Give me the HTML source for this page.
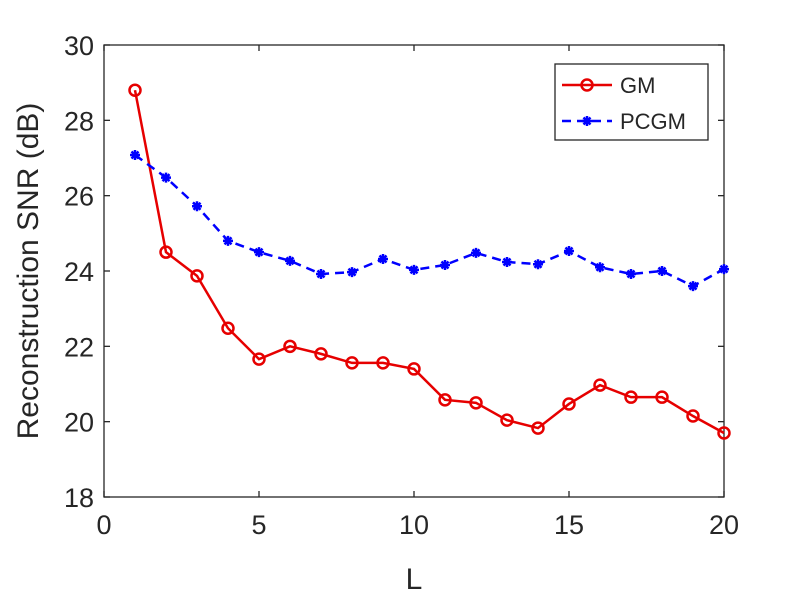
<!DOCTYPE html>
<html><head><meta charset="utf-8"><style>
html,body{margin:0;padding:0;background:#fff;}
svg text{font-family:"Liberation Sans",Arial,sans-serif;fill:#262626;}
</style></head><body>
<svg id="chart" width="800" height="599" xmlns="http://www.w3.org/2000/svg">
<rect x="0" y="0" width="800" height="599" fill="#fff"/>
<g id="plot"></g>
</svg>
<script>
const xValues = [1,2,3,4,5,6,7,8,9,10,11,12,13,14,15,16,17,18,19,20];
const gmValues = [28.8,24.5,23.87,22.48,21.66,22.0,21.8,21.56,21.56,21.4,20.58,20.5,20.04,19.83,20.47,20.97,20.65,20.65,20.15,19.7];
const pcgmValues = [27.08,26.48,25.72,24.8,24.5,24.27,23.92,23.97,24.32,24.03,24.16,24.48,24.24,24.18,24.53,24.1,23.92,24.0,23.6,24.05];
const xTicks = [0,5,10,15,20];
const yTicks = [18,20,22,24,26,28,30];

const L=104,R=724,T=45,B=497;
const xMin=0,xMax=20,yMin=18,yMax=30;
const sx=v=>L+(v-xMin)/(xMax-xMin)*(R-L);
const sy=v=>B-(v-yMin)/(yMax-yMin)*(B-T);
const NS="http://www.w3.org/2000/svg";
const g=document.getElementById('plot');
function mk(tag,attrs,parent){const e=document.createElementNS(NS,tag);for(const k in attrs)e.setAttribute(k,attrs[k]);(parent||g).appendChild(e);return e;}

const box=mk('rect',{x:L,y:T,width:R-L,height:B-T,fill:'#fff',stroke:'#262626','stroke-width':1.3});



xTicks.forEach(v=>{
  const x=sx(v);
  mk('line',{x1:x,y1:B,x2:x,y2:B-6,stroke:'#262626','stroke-width':1.3});
  mk('line',{x1:x,y1:T,x2:x,y2:T+6,stroke:'#262626','stroke-width':1.3});
  const t=mk('text',{x:x,y:B+37,'text-anchor':'middle','font-size':27});
  t.textContent=v;
  
  
});
yTicks.forEach(v=>{
  const y=sy(v);
  mk('line',{x1:L,y1:y,x2:L+6,y2:y,stroke:'#262626','stroke-width':1.3});
  mk('line',{x1:R,y1:y,x2:R-6,y2:y,stroke:'#262626','stroke-width':1.3});
  const t=mk('text',{x:L-10,y:y+10,'text-anchor':'end','font-size':27});
  t.textContent=v;
  
  
});
const xt=mk('text',{x:(L+R)/2,y:589,'text-anchor':'middle','font-size':30});
xt.textContent='L';


const yt=mk('text',{x:0,y:0,'text-anchor':'middle','font-size':30,transform:`translate(38,${(T+B)/2}) rotate(-90)`});
yt.textContent='Reconstruction SNR (dB)';



function star(cx,cy,parent){
  const s=5;
  mk('path',{d:`M${cx-s},${cy}L${cx+s},${cy}M${cx},${cy-s}L${cx},${cy+s}M${cx-s*0.7},${cy-s*0.7}L${cx+s*0.7},${cy+s*0.7}M${cx-s*0.7},${cy+s*0.7}L${cx+s*0.7},${cy-s*0.7}`,stroke:'#0000ff','stroke-width':2.5},parent);
}

const gmPts=xValues.map((x,i)=>sx(x)+','+sy(gmValues[i])).join(' ');
const gl=mk('polyline',{points:gmPts,fill:'none',stroke:'#e60000','stroke-width':2.5});


xValues.forEach((x,i)=>{
  const c=mk('circle',{cx:sx(x),cy:sy(gmValues[i]),r:5.5,fill:'none',stroke:'#e60000','stroke-width':2.5});
  
  
});
const pcPts=xValues.map((x,i)=>sx(x)+','+sy(pcgmValues[i])).join(' ');
const pl=mk('polyline',{points:pcPts,fill:'none',stroke:'#0000ff','stroke-width':2.5,'stroke-dasharray':'9,6'});


xValues.forEach((x,i)=>{
  const pg=mk('g',{});
  
  
  star(sx(x),sy(pcgmValues[i]),pg);
});

const lg=mk('g',{});


mk('rect',{x:555,y:64,width:153,height:76,fill:'#fff',stroke:'#262626','stroke-width':1.3},lg);
const e1=mk('g',{},lg);


mk('line',{x1:562,y1:85,x2:612,y2:85,stroke:'#e60000','stroke-width':2.5},e1);
mk('circle',{cx:587,cy:85,r:5.5,fill:'none',stroke:'#e60000','stroke-width':2.5},e1);
const t1=mk('text',{x:620,y:93,'font-size':22},e1);t1.textContent='GM';
const e2=mk('g',{},lg);


mk('line',{x1:562,y1:121,x2:612,y2:121,stroke:'#0000ff','stroke-width':2.5,'stroke-dasharray':'9,6'},e2);
star(587,121,e2);
const t2=mk('text',{x:620,y:129,'font-size':22},e2);t2.textContent='PCGM';
</script>
</body></html>
